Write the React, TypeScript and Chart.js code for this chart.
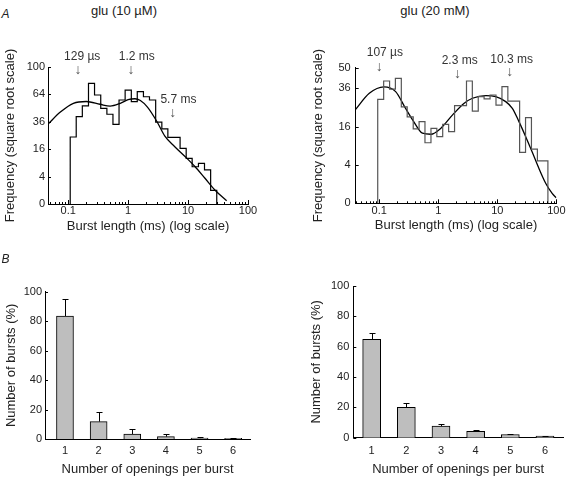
import React, { useEffect, useRef } from 'react';
import { Chart, registerables } from 'chart.js';

Chart.register(...registerables);

const FONT = '"Liberation Sans", Arial, Helvetica, sans-serif';
Chart.defaults.font.family = FONT;

// ---------- DATA ----------
// Panel A, glu (10 µM): burst-length histogram (bin edges in ms, counts per bin)
const lowBinEdges = [0.108, 0.136, 0.172, 0.218, 0.275, 0.349, 0.442, 0.558, 0.705, 0.891, 1.13, 1.42, 1.8, 2.27, 2.88, 3.65, 4.6, 5.82, 7.36, 9.3, 11.7, 14.9, 18.8, 23.8, 30.1];
const lowBinCounts = [23.9, 40.6, 51.2, 77.6, 63.3, 48.8, 42.9, 33.8, 57.6, 69.2, 55.8, 67.2, 61.3, 57.6, 35.8, 30, 23.6, 23.6, 16.5, 11.1, 7.4, 8.8, 6.2, 1.0];
const lowFitX = [0.046, 0.074, 0.122, 0.2, 0.34, 0.5, 0.74, 1.0, 1.3, 1.6, 2.1, 3.0, 4.1, 6.0, 8.9, 13, 19, 28, 44];
const lowFitY = [34, 45, 54, 56, 53, 51, 54, 58, 59, 57, 50, 36.5, 24.5, 17.5, 12, 7.5, 3.6, 1.05, 0.06];
const lowTauLabels = ['129 µs', '1.2 ms', '5.7 ms'];
const lowTauX = [0.145, 1.12, 5.56];

// Panel A, glu (20 mM)
const highBinEdges = [0.0944, 0.119, 0.15, 0.188, 0.237, 0.298, 0.377, 0.474, 0.596, 0.753, 0.947, 1.19, 1.5, 1.89, 2.38, 3.01, 3.78, 4.76, 5.98, 7.55, 9.51, 12.0, 15.1, 19.0, 23.9, 30.1, 37.9, 47.8, 60.1, 72];
const highBinCounts = [29.5, 40.8, 35.6, 42.6, 25.4, 20.4, 15.1, 18.2, 10.0, 15.3, 12.1, 17.0, 14.0, 26.0, 26.0, 40.8, 23.2, 31.0, 29.7, 32.0, 26.3, 37.1, 28.5, 28.5, 7.1, 20.0, 8.0, 4.9, 4.9];
const highFitX = [0.039, 0.068, 0.12, 0.19, 0.27, 0.37, 0.54, 0.75, 1.1, 1.75, 2.75, 3.8, 6.4, 9.4, 13.9, 18, 23.3, 30.3, 39.2, 50.8, 66, 85, 100];
const highFitY = [23.7, 33, 37, 34, 25.4, 18.9, 13.4, 13, 15.3, 21.3, 27.3, 30.1, 31.6, 31, 28.2, 24.6, 18.2, 12.1, 7.1, 3.3, 1.1, 0.27, 0.08];
const highTauLabels = ['107 µs', '2.3 ms', '10.3 ms'];
const highTauX = [0.1, 2.12, 16.3];

// Frequency axis (square-root scale) tick values
const lowFreqTicks = [0, 4, 16, 36, 64, 100];
const highFreqTicks = [0, 4, 16, 36, 50];
const majorTimeTicks = [0.1, 1, 10, 100];

// Panel B: number of openings per burst
const openingCategories = [1, 2, 3, 4, 5, 6];
const lowBurstPct = [83.5, 11.8, 3.4, 1.6, 0.6, 0.5];
const lowBurstErr = [11.3, 6.7, 3.2, 1.6, 0.6, 0.5];
const highBurstPct = [64.9, 20.0, 7.7, 4.2, 2.1, 1.0];
const highBurstErr = [4.3, 2.7, 1.3, 0.7, 0.3, 0.3];
const pctTicks = [0, 20, 40, 60, 80, 100];

// ---------- LAYOUT / STYLE ----------
type Box = {
  left: number; top: number; width: number; height: number;
  pad: { left: number; top: number; right: number; bottom: number };
  yW: number; xH: number; yTitlePad: number; xTitlePad: number; xTickPad: number; yTickPad: number;
};

const boxHistLow: Box = { left: 0, top: 40, width: 283, height: 200, pad: { left: 0, top: 27, right: 35, bottom: 0 }, yW: 48, xH: 36, yTitlePad: 2.2, xTitlePad: 5.7, xTickPad: 0, yTickPad: 3 };
const boxHistHigh: Box = { left: 290, top: 40, width: 277, height: 200, pad: { left: 0, top: 27.9, right: 10.3, bottom: 0 }, yW: 65.7, xH: 36.7, yTitlePad: 20.5, xTitlePad: 6.5, xTickPad: 1.5, yTickPad: 5 };
const boxBarLow: Box = { left: 0, top: 260, width: 283, height: 217, pad: { left: 0, top: 31.7, right: 33, bottom: 0 }, yW: 45, xH: 38, yTitlePad: 3.2, xTitlePad: 0, xTickPad: 5.4, yTickPad: 3 };
const boxBarHigh: Box = { left: 290, top: 260, width: 277, height: 217, pad: { left: 0, top: 26, right: 4, bottom: 0 }, yW: 63.3, xH: 39.3, yTitlePad: 18.9, xTitlePad: 0, xTickPad: 6.4, yTickPad: 4 };

// annotation placement (pixels relative to chart area top / arrow x)
const lowAnnLayout = { textDy: [-10, -10, 33], arrowDy: [3.5, 3.5, 46.5], textDx: [4.3, 5.7, 5.6] };
const highAnnLayout = { textDy: [-14.9, -6.9, -8.6], arrowDy: [-0.4, 6.6, 4.6], textDx: [5.7, 2.2, 1.8] };

const TEXT = '#222';

// log tick positions 1..9 x 10^n
const LOG_TICKS: number[] = [];
[0.01, 0.1, 1, 10].forEach((d) => {
  for (let k = 1; k <= 9; k++) LOG_TICKS.push(k === 1 ? d : Number((k * d).toPrecision(6)));
});
LOG_TICKS.push(100);

// ---------- PLUGINS ----------
const innerTicks = (xMajor: number, xMinor: number, yLen: number, drawX: boolean) => ({
  id: 'innerTicks',
  afterDraw(chart: any) {
    const { ctx, chartArea } = chart;
    const xs = chart.scales.x;
    const ys = chart.scales.y;
    ctx.save();
    ctx.strokeStyle = '#000';
    ctx.lineWidth = 1;
    ctx.beginPath();
    if (drawX) {
      xs.ticks.forEach((t: any) => {
        const px = Math.round(xs.getPixelForValue(t.value)) + 0.5;
        const len = t.label ? xMajor : xMinor;
        ctx.moveTo(px, chartArea.bottom);
        ctx.lineTo(px, chartArea.bottom - len);
      });
    }
    ys.ticks.forEach((t: any) => {
      const py = Math.round(ys.getPixelForValue(t.value)) + 0.5;
      ctx.moveTo(chartArea.left, py);
      ctx.lineTo(chartArea.left + yLen, py);
    });
    ctx.stroke();
    ctx.restore();
  },
});

const tauAnnotations = (labels: string[], xs: number[], lay: { textDy: number[]; arrowDy: number[]; textDx: number[] }) => ({
  id: 'tauAnnotations',
  afterDraw(chart: any) {
    const { ctx, chartArea } = chart;
    const sx = chart.scales.x;
    ctx.save();
    ctx.textAlign = 'center';
    ctx.textBaseline = 'middle';
    labels.forEach((lbl, i) => {
      const px = sx.getPixelForValue(xs[i]);
      ctx.font = `12px ${FONT}`;
      ctx.fillStyle = '#333';
      ctx.fillText(lbl, px + lay.textDx[i], chartArea.top + lay.textDy[i]);
      ctx.font = `14px ${FONT}`;
      ctx.fillStyle = '#555';
      ctx.fillText('↓', px, chartArea.top + lay.arrowDy[i]);
    });
    ctx.restore();
  },
});

const errorBars = (vals: number[], errs: number[]) => ({
  id: 'errorBars',
  afterDatasetsDraw(chart: any) {
    const { ctx } = chart;
    const ys = chart.scales.y;
    const meta = chart.getDatasetMeta(0);
    ctx.save();
    ctx.strokeStyle = '#000';
    ctx.lineWidth = 1;
    ctx.beginPath();
    meta.data.forEach((el: any, i: number) => {
      const x = Math.round(el.x) + 0.5;
      const y0 = el.y;
      const y1 = Math.round(ys.getPixelForValue(vals[i] + errs[i])) + 0.5;
      ctx.moveTo(x, y0);
      ctx.lineTo(x, y1);
      ctx.moveTo(x - 3, y1);
      ctx.lineTo(x + 3, y1);
    });
    ctx.stroke();
    ctx.restore();
  },
});

// ---------- CONFIG BUILDERS ----------
function axisCommon() {
  return {
    grid: { display: false, drawTicks: false },
    border: { display: true, color: '#000', width: 1 },
  };
}

function histConfig(
  edges: number[], counts: number[], fitX: number[], fitY: number[],
  freqTicks: number[], xMin: number, xMax: number, histColor: string,
  tauLabels: string[], tauX: number[], annLay: any, box: Box
): any {
  const histPts = [{ x: edges[0], y: 0 }]
    .concat(counts.map((c, i) => ({ x: edges[i], y: Math.sqrt(c) })))
    .concat([{ x: edges[edges.length - 1], y: 0 }]);
  const fitPts = fitX.map((x, i) => ({ x, y: Math.sqrt(fitY[i]) }));
  const yMax = freqTicks[freqTicks.length - 1];
  return {
    type: 'line',
    data: {
      datasets: [
        { data: histPts, borderColor: histColor, borderWidth: 1.2, pointRadius: 0, stepped: 'before', fill: false },
        { data: fitPts, borderColor: '#000', borderWidth: 1.3, pointRadius: 0, cubicInterpolationMode: 'monotone', fill: false },
      ],
    },
    options: {
      animation: false,
      responsive: false,
      events: [],
      layout: { padding: box.pad },
      plugins: { legend: { display: false }, tooltip: { enabled: false } },
      scales: {
        x: {
          type: 'logarithmic',
          min: xMin,
          max: xMax,
          ...axisCommon(),
          afterBuildTicks: (s: any) => {
            s.ticks = LOG_TICKS.filter((v) => v >= xMin - 1e-9 && v <= xMax + 1e-9).map((v) => ({ value: v }));
          },
          afterFit: (s: any) => { s.height = box.xH; },
          ticks: {
            autoSkip: false, maxRotation: 0, minRotation: 0, padding: box.xTickPad, color: TEXT,
            font: { family: FONT, size: 11 },
            callback: (v: any) => (majorTimeTicks.includes(Number(v)) ? String(v) : ''),
          },
          title: { display: true, text: 'Burst length (ms) (log scale)', color: TEXT, font: { family: FONT, size: 13 }, padding: { top: 0, bottom: box.xTitlePad } },
        },
        y: {
          type: 'linear',
          min: 0,
          max: Math.sqrt(yMax),
          ...axisCommon(),
          afterBuildTicks: (s: any) => { s.ticks = freqTicks.map((v) => ({ value: Math.sqrt(v) })); },
          afterFit: (s: any) => { s.width = box.yW; },
          ticks: {
            autoSkip: false, padding: box.yTickPad, color: TEXT, font: { family: FONT, size: 11 },
            callback: (v: any) => String(Math.round(Number(v) * Number(v))),
          },
          title: { display: true, text: 'Frequency (square root scale)', color: TEXT, font: { family: FONT, size: 13 }, padding: { top: box.yTitlePad, bottom: 0 } },
        },
      },
    },
    plugins: [innerTicks(4, 2, 3, true), tauAnnotations(tauLabels, tauX, annLay)],
  };
}

function barConfig(vals: number[], errs: number[], xMin: number, xMax: number, barW: number, box: Box): any {
  return {
    type: 'bar',
    data: {
      datasets: [
        {
          data: openingCategories.map((c, i) => ({ x: c, y: vals[i] })),
          backgroundColor: '#bebebe',
          borderColor: '#000',
          borderWidth: 1,
          barThickness: barW,
        },
      ],
    },
    options: {
      animation: false,
      responsive: false,
      events: [],
      layout: { padding: box.pad },
      plugins: { legend: { display: false }, tooltip: { enabled: false } },
      scales: {
        x: {
          type: 'linear',
          min: xMin,
          max: xMax,
          offset: false,
          ...axisCommon(),
          afterBuildTicks: (s: any) => { s.ticks = openingCategories.map((v) => ({ value: v })); },
          afterFit: (s: any) => { s.height = box.xH; },
          ticks: { autoSkip: false, maxRotation: 0, padding: box.xTickPad, color: TEXT, font: { family: FONT, size: 11 } },
          title: { display: true, text: 'Number of openings per burst', color: TEXT, font: { family: FONT, size: 13 }, padding: { top: 0, bottom: box.xTitlePad } },
        },
        y: {
          type: 'linear',
          min: 0,
          max: 100,
          ...axisCommon(),
          afterBuildTicks: (s: any) => { s.ticks = pctTicks.map((v) => ({ value: v })); },
          afterFit: (s: any) => { s.width = box.yW; },
          ticks: { autoSkip: false, padding: box.yTickPad, color: TEXT, font: { family: FONT, size: 11 } },
          title: { display: true, text: 'Number of bursts (%)', color: TEXT, font: { family: FONT, size: 13 }, padding: { top: box.yTitlePad, bottom: 0 } },
        },
      },
    },
    plugins: [innerTicks(0, 0, 3, false), errorBars(vals, errs)],
  };
}

// ---------- COMPONENTS ----------
function ChartCanvas({ box, makeConfig }: { box: Box; makeConfig: () => any }) {
  const ref = useRef<HTMLCanvasElement | null>(null);
  useEffect(() => {
    if (!ref.current) return;
    const chart = new Chart(ref.current, makeConfig());
    return () => chart.destroy();
  }, []);
  return (
    <canvas
      ref={ref}
      width={box.width}
      height={box.height}
      style={{ position: 'absolute', left: box.left, top: box.top, width: box.width, height: box.height }}
    />
  );
}

function Label({ text, x, baseline, size, italic, center }: { text: string; x: number; baseline: number; size: number; italic?: boolean; center?: boolean }) {
  return (
    <span
      style={{
        position: 'absolute',
        left: x,
        top: baseline - 0.8465 * size,
        fontFamily: FONT,
        fontSize: size,
        lineHeight: `${size}px`,
        fontStyle: italic ? 'italic' : 'normal',
        color: TEXT,
        whiteSpace: 'nowrap',
        transform: center ? 'translateX(-50%)' : undefined,
      }}
    >
      {text}
    </span>
  );
}

export default function App() {
  return (
    <div style={{ position: 'absolute', left: 0, top: 0, width: 567, height: 477, background: '#fff', overflow: 'hidden' }}>
      <ChartCanvas
        box={boxHistLow}
        makeConfig={() => histConfig(lowBinEdges, lowBinCounts, lowFitX, lowFitY, lowFreqTicks, 0.046, 100, '#000', lowTauLabels, lowTauX, lowAnnLayout, boxHistLow)}
      />
      <ChartCanvas
        box={boxHistHigh}
        makeConfig={() => histConfig(highBinEdges, highBinCounts, highFitX, highFitY, highFreqTicks, 0.04, 100, '#555', highTauLabels, highTauX, highAnnLayout, boxHistHigh)}
      />
      <ChartCanvas box={boxBarLow} makeConfig={() => barConfig(lowBurstPct, lowBurstErr, 0.406, 6.5, 17, boxBarLow)} />
      <ChartCanvas box={boxBarHigh} makeConfig={() => barConfig(highBurstPct, highBurstErr, 0.47, 6.52, 18, boxBarHigh)} />
      <Label text="A" x={1.5} baseline={18.3} size={12} italic />
      <Label text="B" x={1.5} baseline={262.7} size={12} italic />
      <Label text="glu (10 µM)" x={124} baseline={15} size={13} center />
      <Label text="glu (20 mM)" x={435} baseline={15} size={13} center />
    </div>
  );
}
